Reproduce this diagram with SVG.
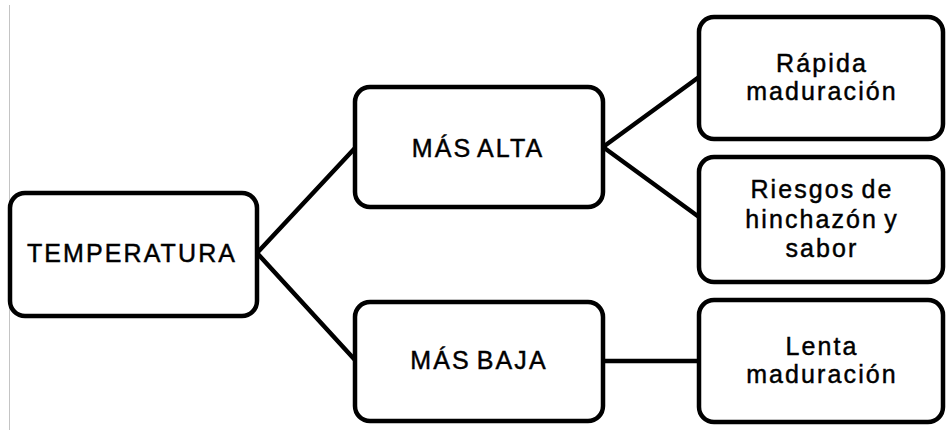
<svg xmlns="http://www.w3.org/2000/svg" width="947" height="435" viewBox="0 0 947 435">
  <style>
    .box { fill: #ffffff; stroke: #000000; stroke-width: 4.5; }
    .link { stroke: #000000; stroke-width: 4.5; fill: none; stroke-linecap: round; }
    .label { font-family: "Liberation Sans", Arial, sans-serif; font-size: 25px; fill: #000000; stroke: #000000; stroke-width: 0.45; text-anchor: middle; letter-spacing: 2.1px; word-spacing: -3px; }
  </style>
  <rect width="947" height="435" fill="#ffffff"/>
  <!-- page margin rule -->
  <line x1="9.5" y1="5" x2="9.5" y2="430" stroke="#c4c4c4" stroke-width="1"/>

  <g id="connectors">
    <line class="link" x1="257" y1="253" x2="355" y2="148"/>
    <line class="link" x1="257" y1="253" x2="355" y2="360"/>
    <line class="link" x1="603" y1="147" x2="699" y2="77"/>
    <line class="link" x1="603" y1="147" x2="699" y2="217"/>
    <line class="link" x1="603" y1="361" x2="699" y2="361"/>
  </g>

  <g id="temperatura">
    <rect class="box" x="10" y="193" width="247" height="123" rx="15"/>
    <text class="label" x="132" y="262">TEMPERATURA</text>
  </g>

  <g id="mas-alta">
    <rect class="box" x="355" y="87" width="248" height="120" rx="15"/>
    <text class="label" x="478" y="157">MÁS ALTA</text>
  </g>

  <g id="mas-baja">
    <rect class="box" x="355" y="302" width="248" height="119" rx="15"/>
    <text class="label" x="479" y="369">MÁS BAJA</text>
  </g>

  <g id="rapida-maduracion">
    <rect class="box" x="699" y="17" width="244" height="122" rx="15"/>
    <text class="label" x="822" y="72">Rápida</text>
    <text class="label" x="822" y="100">maduración</text>
  </g>

  <g id="riesgos">
    <rect class="box" x="699" y="157" width="244" height="125" rx="15"/>
    <text class="label" x="822" y="198">Riesgos de</text>
    <text class="label" x="822" y="228">hinchazón y</text>
    <text class="label" x="822" y="257">sabor</text>
  </g>

  <g id="lenta-maduracion">
    <rect class="box" x="699" y="300" width="244" height="122" rx="15"/>
    <text class="label" x="822" y="355">Lenta</text>
    <text class="label" x="822" y="383">maduración</text>
  </g>
</svg>
